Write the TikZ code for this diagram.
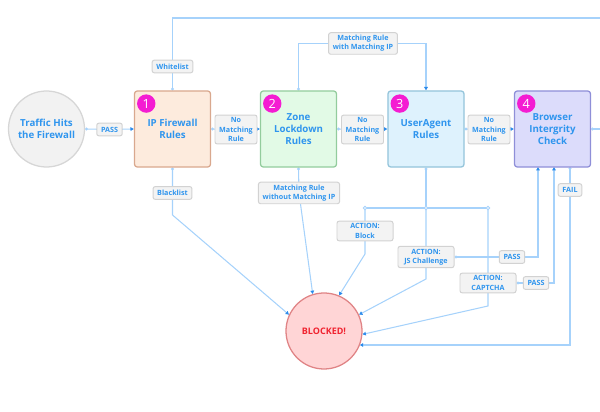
\documentclass[tikz,border=0pt]{standalone}
\usepackage{fontspec}
\setsansfont{Open Sans}
\usetikzlibrary{arrows.meta, backgrounds, positioning, calc}
\definecolor{linkblue}{HTML}{A6D2FB}
\definecolor{tipblue}{HTML}{2C8BEB}
\definecolor{labelblue}{HTML}{2F95EE}
\definecolor{tagfill}{HTML}{F3F3F3}
\definecolor{tagdraw}{HTML}{D2D2D2}
\definecolor{ipfill}{HTML}{FDEBDD}
\definecolor{ipdraw}{HTML}{D9A88E}
\definecolor{zonefill}{HTML}{E2FAE6}
\definecolor{zonedraw}{HTML}{93CC9D}
\definecolor{uafill}{HTML}{DEF2FD}
\definecolor{uadraw}{HTML}{93C4DA}
\definecolor{bicfill}{HTML}{DCDCFB}
\definecolor{bicdraw}{HTML}{8F8FD8}
\definecolor{badgepink}{HTML}{F41CD2}
\definecolor{startfill}{HTML}{F2F2F2}
\definecolor{startdraw}{HTML}{D6D6D6}
\definecolor{blockfill}{HTML}{FFD5D6}
\definecolor{blockdraw}{HTML}{E08486}
\definecolor{blockred}{HTML}{F0222F}
\tikzset{
  rule box/.style={rectangle, rounded corners=2pt, minimum size=1.9cm, line width=0.9pt, text=labelblue, align=center, font=\sffamily\bfseries\fontsize{6.9}{8.6}\selectfont},
  end circle/.style={circle, minimum size=1.9cm, line width=0.9pt, align=center, font=\sffamily\bfseries\fontsize{6.9}{8.6}\selectfont},
  tag/.style={rectangle, rounded corners=1.5pt, fill=tagfill, draw=tagdraw, line width=0.7pt, text=labelblue, align=center, minimum height=9pt, inner xsep=3pt, inner ysep=1.8pt, font=\sffamily\bfseries\fontsize{5.1}{6.6}\selectfont},
  action tag/.style={tag, minimum width=1.4cm},
  badge/.style={circle, fill=badgepink, minimum size=0.46cm, inner sep=0pt, text=white, font=\sffamily\fontsize{9}{9}\selectfont},
  link/.style={draw=linkblue, line width=0.75pt},
  flow/.style={link, {Circle[open, length=2pt, width=2pt, fill=white]}-{Triangle[length=2.4pt, width=2.6pt, color=tipblue]}},
  lead/.style={link, {Circle[open, length=2pt, width=2pt, fill=white]}-},
  feed/.style={link, -{Triangle[length=2.4pt, width=2.6pt, color=tipblue]}},
  joint/.style={circle, draw=linkblue, fill=white, line width=0.6pt, minimum size=2.4pt, inner sep=0pt}
}

\begin{document}
\begin{tikzpicture}[x=0.025cm, y=-0.025cm]
  \useasboundingbox (0,0) rectangle (600,412);

  % --- Entry, rule boxes and exit ---
  \node[end circle, fill=startfill, draw=startdraw, text=labelblue] (traffic) at (46.5,129) {Traffic Hits\\the Firewall};
  \node[rule box, fill=ipfill, draw=ipdraw] (ipfw) at (172.5,129) {IP Firewall\\Rules};
  \node[rule box, fill=zonefill, draw=zonedraw] (zone) at (298.5,129) {Zone\\Lockdown\\Rules};
  \node[rule box, fill=uafill, draw=uadraw] (ua) at (426,129) {UserAgent\\Rules};
  \node[rule box, fill=bicfill, draw=bicdraw] (bic) at (552.5,129) {Browser\\Intergrity\\Check};
  \node[end circle, fill=blockfill, draw=blockdraw, text=blockred, font=\sffamily\bfseries\fontsize{6.4}{8}\selectfont] (blocked) at (324,331) {BLOCKED!};

  % Step numbers
  \foreach \stage/\num in {ipfw/1, zone/2, ua/3, bic/4}
    \node[badge] (badge-\num) at ([xshift=0.31cm, yshift=-0.33cm]\stage.north west) {\num};

  % --- Connector labels ---
  \node[tag] (pass-in) at (109.5,129.5) {PASS};
  \node[tag] (nomatch-1) at (236,129.5) {No\\Matching\\Rule};
  \node[tag] (nomatch-2) at (362.5,129.5) {No\\Matching\\Rule};
  \node[tag] (nomatch-3) at (489,129.5) {No\\Matching\\Rule};
  \node[tag] (whitelist) at (172.5,66.5) {Whitelist};
  \node[tag] (blacklist) at (172.5,193) {Blacklist};
  \node[tag] (with-ip) at (363,43.5) {Matching Rule\\with Matching IP};
  \node[tag] (without-ip) at (299,193) {Matching Rule\\without Matching IP};
  \node[action tag] (act-block) at (365,231) {ACTION:\\Block};
  \node[action tag] (act-js) at (426,257) {ACTION:\\JS Challenge};
  \node[action tag] (act-captcha) at (488,283) {ACTION:\\CAPTCHA};
  \node[tag] (pass-js) at (512,257) {PASS};
  \node[tag] (pass-captcha) at (536,283) {PASS};
  \node[tag] (fail) at (570,190) {FAIL};

  % Junction points below the UserAgent box
  \node[joint] (j-left) at (365,208) {};
  \node[joint] (j-mid) at (426,208) {};
  \node[joint] (j-right) at (488,208) {};

  % Helper coordinates
  \coordinate (top-right) at (600,18);
  \coordinate (exit-right) at (600,129);
  \coordinate (black-bend) at (172.5,215);
  \coordinate (block-bend) at (365,254);
  \coordinate (js-bend) at (426,279);
  \coordinate (captcha-bend) at (488,306);
  \coordinate (bic-in-1) at (538,167);
  \coordinate (bic-in-2) at (554,167);
  \coordinate (bic-out) at (570,167);
  \coordinate (fail-bend) at (570,345);

  % --- Connectors ---
  \begin{scope}[on background layer]
    \draw[flow] (traffic.east) -- (pass-in.center) -- (ipfw.west);
    \draw[flow] (ipfw.east) -- (nomatch-1.center) -- (zone.west);
    \draw[flow] (zone.east) -- (nomatch-2.center) -- (ua.west);
    \draw[flow] (ua.east) -- (nomatch-3.center) -- (bic.west);
    \draw[lead] (bic.east) -- (exit-right);

    \draw[lead] (ipfw.north) -- (whitelist.center) -- (ipfw.north |- top-right) -- (top-right);
    \draw[flow] (ipfw.south) -- (blacklist.center) -- (black-bend) -- (blocked.155);
    \draw[flow] (zone.north) -- (zone.north |- with-ip) -- (ua.north |- with-ip) -- (ua.north);
    \draw[flow] (zone.south) -- (without-ip.center) -- (blocked.107);

    \draw[lead] (ua.south) -- (j-mid);
    \draw[link] (j-left) -- (j-right);
    \draw[feed] (j-left) -- (act-block.center) -- (block-bend) -- (blocked.67);
    \draw[feed] (j-mid) -- (act-js.center) -- (js-bend) -- (blocked.25);
    \draw[feed] (j-right) -- (act-captcha.center) -- (captcha-bend) -- (blocked.-5);

    \draw[flow] (act-js.east) -- (pass-js.center) -- (pass-js.center -| bic-in-1) -- (bic-in-1);
    \draw[flow] (act-captcha.east) -- (pass-captcha.center) -- (pass-captcha.center -| bic-in-2) -- (bic-in-2);
    \draw[flow] (bic-out) -- (fail.center) -- (fail-bend) -- (blocked.-22 |- fail-bend);
  \end{scope}
\end{tikzpicture}
\end{document}
